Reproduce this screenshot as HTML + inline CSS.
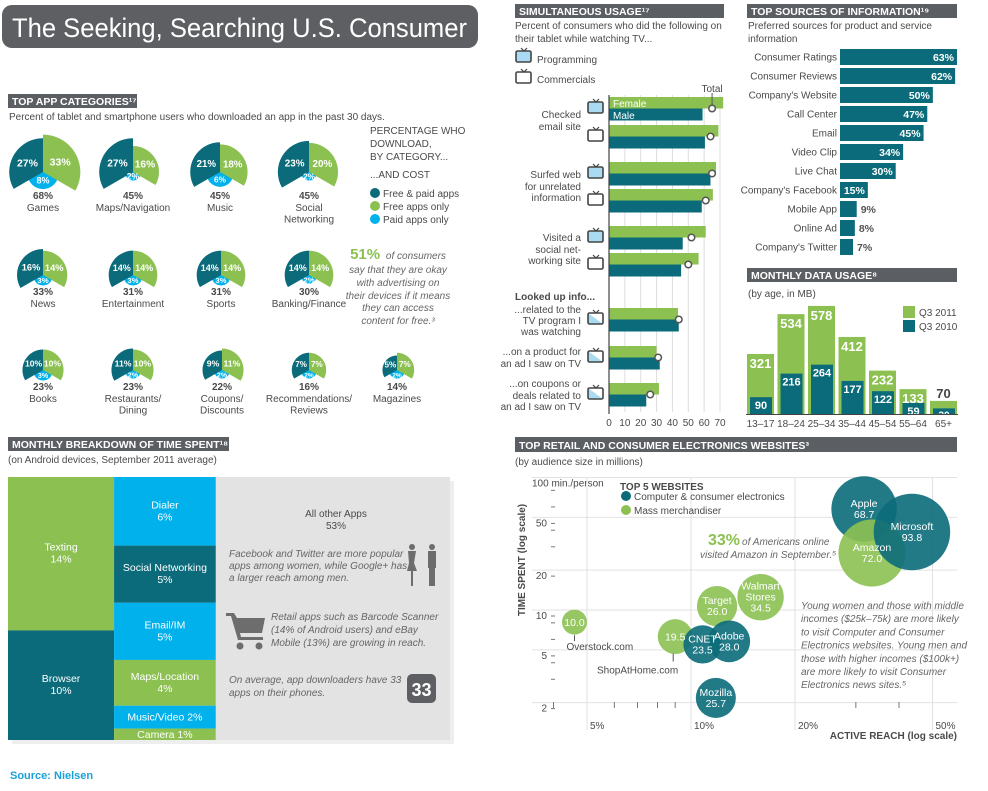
<!DOCTYPE html>
<html><head><meta charset="utf-8"><style>
html,body{margin:0;padding:0;background:#fff;}
svg{display:block;font-family:"Liberation Sans",sans-serif;}
.t{fill:#4a4a4a;font-size:10px;}
.hd{fill:#fff;font-size:10.5px;font-weight:bold;}
.w{fill:#fff;}
.it{font-style:italic;fill:#666;font-size:10px;}
</style></head><body>
<svg id="s" width="988" height="791" viewBox="0 0 988 791">
<defs>
<linearGradient id="half" x1="0" y1="1" x2="1" y2="0"><stop offset="0.5" stop-color="#a9dbf3"/><stop offset="0.5" stop-color="#fff"/></linearGradient>
</defs>
<g>
<rect x="2" y="5" width="476" height="43" rx="10" fill="#5d5f63"/>
<text x="12" y="37" fill="#fff" font-size="27" textLength="455" lengthAdjust="spacingAndGlyphs">The Seeking, Searching U.S. Consumer</text>
</g>

<g><rect x="8" y="94" width="129" height="14" fill="#5b5e63"/><text class="hd" x="12" y="105">TOP APP CATEGORIES¹⁷</text></g>
<text class="t" x="9" y="120">Percent of tablet and smartphone users who downloaded an app in the past 30 days.</text>
<g><rect x="515" y="4" width="209" height="14" fill="#5b5e63"/><text class="hd" x="519" y="15">SIMULTANEOUS USAGE¹⁷</text></g>
<text class="t" x="515" y="29">Percent of consumers who did the following on</text>
<text class="t" x="515" y="42">their tablet while watching TV...</text>
<g><rect x="747" y="4" width="210" height="14" fill="#5b5e63"/><text class="hd" x="751" y="15">TOP SOURCES OF INFORMATION¹⁹</text></g>
<text class="t" x="748" y="29">Preferred sources for product and service</text>
<text class="t" x="748" y="42">information</text>
<g><rect x="747" y="268" width="210" height="14" fill="#5b5e63"/><text class="hd" x="751" y="279">MONTHLY DATA USAGE⁸</text></g>
<text class="t" x="748" y="297">(by age, in MB)</text>
<g><rect x="8" y="437" width="221" height="14" fill="#5b5e63"/><text class="hd" x="12" y="448">MONTHLY BREAKDOWN OF TIME SPENT¹⁸</text></g>
<text class="t" x="8" y="463">(on Android devices, September 2011 average)</text>
<g><rect x="515" y="437" width="442" height="15" fill="#5b5e63"/><text class="hd" x="519" y="449">TOP RETAIL AND CONSUMER ELECTRONICS WEBSITES³</text></g>
<text class="t" x="515" y="465">(by audience size in millions)</text>

<g>
<text class="t" x="370" y="134">PERCENTAGE WHO</text>
<text class="t" x="370" y="147">DOWNLOAD,</text>
<text class="t" x="370" y="160">BY CATEGORY...</text>
<text class="t" x="370" y="178">...AND COST</text>
<circle cx="375" cy="193" r="5" fill="#0b6b7a"/><text class="t" x="383" y="197">Free &amp; paid apps</text>
<circle cx="375" cy="206" r="5" fill="#8cc152"/><text class="t" x="383" y="210">Free apps only</text>
<circle cx="375" cy="219" r="5" fill="#00b1ec"/><text class="t" x="383" y="223">Paid apps only</text>
</g>
<g text-anchor="middle">
<text x="398" y="259"><tspan fill="#8cc152" font-weight="bold" font-size="15">51%</tspan><tspan class="it" dx="3"> of consumers</tspan></text>
<text class="it" x="398" y="273">say that they are okay</text>
<text class="it" x="398" y="286">with advertising on</text>
<text class="it" x="398" y="299">their devices if it means</text>
<text class="it" x="398" y="311">they can access</text>
<text class="it" x="398" y="324">content for free.³</text>
</g>
<g id="pies"></g>

<g id="tree"></g>
<g>
<text class="t" x="336" y="517" text-anchor="middle" font-size="10.5">All other Apps</text>
<text class="t" x="336" y="529" text-anchor="middle" font-size="10.5">53%</text>
<text class="it" x="229" y="557" fill="#555">Facebook and Twitter are more popular</text>
<text class="it" x="229" y="569" fill="#555">apps among women, while Google+ has</text>
<text class="it" x="229" y="581" fill="#555">a larger reach among men.</text>
<g fill="#6d6d6d">
<circle cx="412" cy="547" r="3"/><path d="M408 551h8l-2 12 3 8h-4v15h-2v-15h-4l2-8z"/>
<circle cx="432" cy="547" r="3"/><rect x="428" y="551" width="8" height="17"/><rect x="429" y="568" width="6" height="18"/>
</g>
<g fill="#6d6d6d">
<path d="M226 613h8l3 5h28l-3 15h-22l1 4h22v3h-25l-7-24h-5z"/><circle cx="240" cy="646" r="3.5"/><circle cx="259" cy="646" r="3.5"/>
</g>
<text class="it" x="271" y="620" fill="#555">Retail apps such as Barcode Scanner</text>
<text class="it" x="271" y="633" fill="#555">(14% of Android users) and eBay</text>
<text class="it" x="271" y="646" fill="#555">Mobile (13%) are growing in reach.</text>
<text class="it" x="229" y="683" fill="#555">On average, app downloaders have 33</text>
<text class="it" x="229" y="696" fill="#555">apps on their phones.</text>
<rect x="407" y="674" width="29" height="29" rx="5" fill="#5d5f63"/>
<text x="421.5" y="696" fill="#fff" font-size="18" font-weight="bold" text-anchor="middle">33</text>
</g>
<text x="10" y="779" fill="#1aa0d8" font-size="11" font-weight="bold">Source: Nielsen</text>

<g id="simleg">
<text class="t" x="537" y="63">Programming</text>
<text class="t" x="537" y="83">Commercials</text>
</g>
<g id="sim"></g>
<g id="src"></g>
<g id="mdu"></g>
<g id="bub"></g>
</svg>
<script>
const pieNames=[["Games"],["Maps/Navigation"],["Music"],["Social","Networking"],["News"],["Entertainment"],["Sports"],["Banking/Finance"],["Books"],["Restaurants/","Dining"],["Coupons/","Discounts"],["Recommendations/","Reviews"],["Magazines"]];
const pieFreePaid=[27,27,21,23,16,14,14,14,10,11,9,7,5];
const pieFree=[33,16,18,20,14,14,14,14,10,10,11,7,7];
const piePaid=[8,2,6,2,3,3,3,2,3,2,2,2,2];
const pieTotal=[68,45,45,45,33,31,31,30,23,23,22,16,14];
const tmLeft=["Texting","Browser"], tmLeftV=[14,10];
const tmMid=["Dialer","Social Networking","Email/IM","Maps/Location","Music/Video","Camera"], tmMidV=[6,5,5,4,2,1];
const tmOtherV=53;
const simFemale=[72,69,67.5,65.5,61,56.5,43.5,30,31.5];
const simMale=[59,60.5,64,58.5,46.5,45.5,44,32,23.5];
const simTotal=[65,64,65,61,52,50,44,31,26];
const simTicks=[0,10,20,30,40,50,60,70];
const srcNames=["Consumer Ratings","Consumer Reviews","Company's Website","Call Center","Email","Video Clip","Live Chat","Company's Facebook","Mobile App","Online Ad","Company's Twitter"];
const srcVals=[63,62,50,47,45,34,30,15,9,8,7];
const mduAges=["13–17","18–24","25–34","35–44","45–54","55–64","65+"];
const mdu2011=[321,534,578,412,232,133,70];
const mdu2010=[90,216,264,177,122,59,30];
const bubNames=["Overstock","ShopAtHome","Walmart Stores","Target","Apple","Amazon","Microsoft","Adobe","CNET","Mozilla"];
const bubReach=[4.6,9.0,15.9,11.9,31.7,33.4,43.6,12.9,10.8,11.8];
const bubTime=[8.1,6.3,12.5,10.7,57.8,26.9,38.8,5.8,5.5,2.17];
const bubAud=[10.0,19.5,34.5,26.0,68.7,72.0,93.8,28.0,23.5,25.7];
const bubType=["m","m","m","m","c","m","c","c","c","c"];
const yTicks=[100,50,20,10,5,2], xTicks=[5,10,20,50];

const NS="http://www.w3.org/2000/svg";
const TEAL="#0b6b7a",GREEN="#8cc152",CYAN="#00b1ec";
function mk(p,tag,at,txt){const e=document.createElementNS(NS,tag);for(const k in at)e.setAttribute(k,at[k]);if(txt!=null)e.textContent=txt;p.appendChild(e);return e;}

(function(){
const g=document.getElementById('pies');
const cxs=[43,133,220,309,43,133,221,309,43,133,222,309,397];
const cys=[172,172,172,172,275,275,275,275,370,370,370,370,370];
const rad=v=>6.5*Math.sqrt(v), radC=v=>5.5*Math.sqrt(v);
function sector(cx,cy,r,a0,a1,sw){const p=a=>[cx+r*Math.cos(a*Math.PI/180),cy+r*Math.sin(a*Math.PI/180)];const s=p(a0),e=p(a1);return `M${cx} ${cy}L${s[0]} ${s[1]}A${r} ${r} 0 0 ${sw} ${e[0]} ${e[1]}Z`;}
pieNames.forEach((nm,i)=>{
 const cx=cxs[i],cy=cys[i];
 const pg=mk(g,'g',{});
 
 
 const rc=radC(piePaid[i]);
 mk(pg,'circle',{cx:cx,cy:cy+rc*0.1,r:rc,fill:CYAN});
 const rt=rad(pieFreePaid[i]),rg=rad(pieFree[i]);
 mk(pg,'path',{d:sector(cx,cy,rt,-90,-210,0),fill:TEAL});
 mk(pg,'path',{d:sector(cx,cy,rg,-90,30,1),fill:GREEN});
 const fs=Math.min(10.5,6+Math.max(rt,rg)/8);
 mk(pg,'text',{x:cx-rt*0.46,y:cy-rt*0.17,'text-anchor':'middle','font-size':fs,'font-weight':'bold',fill:'#fff'},pieFreePaid[i]+'%');
 mk(pg,'text',{x:cx+rg*0.46,y:cy-rg*0.17,'text-anchor':'middle','font-size':fs,'font-weight':'bold',fill:'#fff'},pieFree[i]+'%');
 mk(pg,'text',{x:cx,y:cy+rc*0.55+3,'text-anchor':'middle','font-size':fs-1.5,'font-weight':'bold',fill:'#fff'},piePaid[i]+'%');
 const ly=cys[i]+(i<4?27:20);
 mk(pg,'text',{x:cx,y:ly,'text-anchor':'middle',class:'t','font-weight':'bold'},pieTotal[i]+'%');
 nm.forEach((l,k)=>mk(pg,'text',{x:cx,y:ly+12+k*11.5,'text-anchor':'middle',class:'t'},l));
});
})();

(function(){
const g=document.getElementById('tree');
const x0=8,y0=477,H=263,W=442;
const tot=tmLeftV.reduce((a,b)=>a+b,0)+tmMidV.reduce((a,b)=>a+b,0)+tmOtherV;
const wL=W*tmLeftV.reduce((a,b)=>a+b,0)/tot,wM=W*tmMidV.reduce((a,b)=>a+b,0)/tot;
mk(g,'rect',{x:x0+4,y:y0+4,width:W,height:H,fill:'#eee'});
const other=mk(g,'rect',{x:x0+wL+wM,y:y0,width:W-wL-wM,height:H,fill:'#e3e3e3'});


const lc=[GREEN,TEAL];let y=y0;const sL=tmLeftV.reduce((a,b)=>a+b,0);
tmLeft.forEach((n,i)=>{const h=H*tmLeftV[i]/sL;const r=mk(g,'rect',{x:x0,y:y,width:wL,height:h,fill:lc[i]});
 
 
 mk(g,'text',{x:x0+wL/2,y:y+h/2-3,'text-anchor':'middle',fill:'#fff','font-size':10.5},n);
 mk(g,'text',{x:x0+wL/2,y:y+h/2+9,'text-anchor':'middle',fill:'#fff','font-size':10.5},tmLeftV[i]+'%');y+=h;});
const mc=[CYAN,TEAL,CYAN,GREEN,CYAN,GREEN];y=y0;const sM=tmMidV.reduce((a,b)=>a+b,0);
tmMid.forEach((n,i)=>{const h=H*tmMidV[i]/sM;const r=mk(g,'rect',{x:x0+wL,y:y,width:wM,height:h,fill:mc[i]});
 
 
 if(h>30){mk(g,'text',{x:x0+wL+wM/2,y:y+h/2-3,'text-anchor':'middle',fill:'#fff','font-size':10.5},n);
  mk(g,'text',{x:x0+wL+wM/2,y:y+h/2+9,'text-anchor':'middle',fill:'#fff','font-size':10.5},tmMidV[i]+'%');}
 else mk(g,'text',{x:x0+wL+wM/2,y:y+h/2+3.5,'text-anchor':'middle',fill:'#fff','font-size':10.5},n+' '+tmMidV[i]+'%');
 y+=h;});
})();

function tv(p,x,y,fill){const g=mk(p,'g',{});
 
 
 mk(g,'path',{d:`M${x+5} ${y}l3 3l3-3`,stroke:'#444',fill:'none','stroke-width':1.2});
 mk(g,'rect',{x:x,y:y+3,width:15,height:11,rx:1.5,fill:fill,stroke:'#444','stroke-width':1.6});}
tv(document.getElementById('simleg'),516,48,'#a9dbf3');tv(document.getElementById('simleg'),516,69,'#fff');

(function(){
const g=document.getElementById('sim');
const X=v=>609+v*(111/70);
const rowTop=[97,125,162,189,226,253,308,346,383];
simTicks.forEach(t=>{mk(g,'line',{x1:X(t),x2:X(t),y1:95,y2:412,stroke:'#ddd','stroke-width':1});
 mk(g,'text',{x:X(t),y:426,'text-anchor':'middle',class:'t'},t);});
simFemale.forEach((f,i)=>{const y=rowTop[i];
 const a=mk(g,'rect',{x:X(0),y:y,width:X(f)-X(0),height:11.5,fill:GREEN});
 
 
 const b=mk(g,'rect',{x:X(0),y:y+11.5,width:X(simMale[i])-X(0),height:12,fill:TEAL});
 
 
 const c=mk(g,'circle',{cx:X(simTotal[i]),cy:y+11.5,r:3.3,fill:'#fff',stroke:'#555','stroke-width':1.5});
 
 
 tv(g,588,y+2,i<6?(i%2?'#fff':'#a9dbf3'):'url(#half)');
});
mk(g,'line',{x1:X(0),x2:X(0),y1:95,y2:414,stroke:'#444','stroke-width':1.2});
mk(g,'line',{x1:X(simTotal[0]),x2:X(simTotal[0]),y1:93,y2:106,stroke:'#555'});
mk(g,'text',{x:X(simTotal[0]),y:92,'text-anchor':'middle',class:'t'},'Total');
mk(g,'text',{x:613,y:107,fill:'#fff','font-size':10},'Female');
mk(g,'text',{x:613,y:119,fill:'#fff','font-size':10},'Male');
const L=[[118,"Checked"],[130,"email site"],[178,"Surfed web"],[190,"for unrelated"],[201,"information"],[241,"Visited a"],[253,"social net-"],[264,"working site"],[313,"...related to the"],[324,"TV program I"],[335,"was watching"],[355,"...on a product for"],[367,"an ad I saw on TV"],[387,"...on coupons or"],[399,"deals related to"],[410,"an ad I saw on TV"]];
L.forEach(l=>mk(g,'text',{x:581,y:l[0],'text-anchor':'end',class:'t'},l[1]));
mk(g,'text',{x:515,y:300,class:'t','font-weight':'bold'},'Looked up info...');
})();

(function(){
const g=document.getElementById('src');const X=v=>840+v*1.857;
srcNames.forEach((n,i)=>{const yc=57+i*19;
 const r=mk(g,'rect',{x:840,y:yc-8,width:X(srcVals[i])-840,height:16,fill:TEAL});
 
 
 mk(g,'text',{x:837,y:yc+3.5,'text-anchor':'end',class:'t'},n);
 if(srcVals[i]>=15)mk(g,'text',{x:X(srcVals[i])-3,y:yc+4,'text-anchor':'end',fill:'#fff','font-size':10.5,'font-weight':'bold'},srcVals[i]+'%');
 else mk(g,'text',{x:X(srcVals[i])+4,y:yc+4,fill:'#555','font-size':10.5,'font-weight':'bold'},srcVals[i]+'%');
});
})();

(function(){
const g=document.getElementById('mdu');const base=414,Y=v=>base-v*0.187;
mduAges.forEach((a,i)=>{const x=747+i*30.5;
 const r=mk(g,'rect',{x:x,y:Y(mdu2011[i]),width:27,height:base-Y(mdu2011[i]),fill:GREEN});
 
 
 const r2=mk(g,'rect',{x:x+3,y:Y(mdu2010[i]),width:22,height:base-Y(mdu2010[i]),fill:TEAL});
 
 
 const big=mdu2011[i]>100;
 mk(g,'text',{x:x+13.5,y:big?Y(mdu2011[i])+14:Y(mdu2011[i])-3,'text-anchor':'middle','font-size':13,'font-weight':'bold',fill:big?'#fff':'#444'},mdu2011[i]);
 mk(g,'text',{x:x+14,y:Y(mdu2010[i])+(mdu2010[i]>50?12:10),'text-anchor':'middle','font-size':big?11:10,'font-weight':'bold',fill:'#fff'},mdu2010[i]);
 mk(g,'text',{x:x+13.5,y:427,'text-anchor':'middle',class:'t'},a);
});
mk(g,'line',{x1:746,x2:958,y1:414.5,y2:414.5,stroke:'#444'});
mk(g,'rect',{x:903,y:306,width:12,height:12,fill:GREEN});mk(g,'text',{x:919,y:316,class:'t'},'Q3 2011');
mk(g,'rect',{x:903,y:320,width:12,height:12,fill:TEAL});mk(g,'text',{x:919,y:330,class:'t'},'Q3 2010');
})();

(function(){
const g=document.getElementById('bub');
const X=p=>691+345.5*Math.log10(p/10), Y=t=>610-132.5*Math.log10(t/10);
yTicks.forEach(t=>{mk(g,'line',{x1:532,x2:957,y1:Y(t),y2:Y(t),stroke:'#e2e2e2'});
 mk(g,'text',{x:t==100?532:547,y:Y(t)+9,'text-anchor':t==100?'start':'end',class:'t'},t==100?'100 min./person':t);});
xTicks.forEach(p=>{mk(g,'line',{x1:X(p),x2:X(p),y1:478,y2:730,stroke:'#e2e2e2'});
 mk(g,'text',{x:X(p)+3,y:729,class:'t'},p+'%');});
[80,60,40,30,8,6,4,3].forEach(t=>mk(g,'line',{x1:551,x2:555,y1:Y(t),y2:Y(t),stroke:'#777'}));
[10,20,50,5,2].forEach(t=>mk(g,'line',{x1:551,x2:555,y1:Y(t)+6,y2:Y(t)+6,stroke:'#777'}));
[4,6,7,8,9,30,40].forEach(p=>mk(g,'line',{x1:X(p),x2:X(p),y1:702,y2:708,stroke:'#777'}));
mk(g,'text',{x:0,y:0,transform:'translate(525,560) rotate(-90)','text-anchor':'middle',class:'t','font-weight':'bold','font-size':10.5},'TIME SPENT (log scale)');
mk(g,'text',{x:957,y:739,'text-anchor':'end',class:'t','font-weight':'bold','font-size':10.5},'ACTIVE REACH (log scale)');
mk(g,'text',{x:620,y:490,class:'t','font-weight':'bold'},'TOP 5 WEBSITES');
mk(g,'circle',{cx:626,cy:496,r:5,fill:TEAL});mk(g,'text',{x:634,y:500,class:'t'},'Computer & consumer electronics');
mk(g,'circle',{cx:626,cy:510,r:5,fill:GREEN});mk(g,'text',{x:634,y:514,class:'t'},'Mass merchandiser');
const note=mk(g,'text',{x:708,y:545});
mk(note,'tspan',{fill:GREEN,'font-weight':'bold','font-size':16},'33%');
mk(note,'tspan',{class:'it',dx:2},'of Americans online');
mk(g,'text',{x:700,y:558,class:'it'},'visited Amazon in September.⁵');
["Young women and those with middle","incomes ($25k–75k) are more likely","to visit Computer and Consumer","Electronics websites. Young men and","those with higher incomes ($100k+)","are more likely to visit Consumer","Electronics news sites.⁵"].forEach((l,k)=>mk(g,'text',{x:801,y:609+k*13.2,class:'it'},l));
bubNames.forEach((n,i)=>{const cx=X(bubReach[i]),cy=Y(bubTime[i]),r=3.95*Math.sqrt(bubAud[i]);
 const c=mk(g,'circle',{cx:cx,cy:cy,r:r,fill:bubType[i]=='c'?TEAL:GREEN,'fill-opacity':0.9});
 
 
});
bubNames.forEach((n,i)=>{const cx=X(bubReach[i]),cy=Y(bubTime[i]);const v=bubAud[i].toFixed(1);
 if(i<2){mk(g,'text',{x:cx,y:cy+4,'text-anchor':'middle',fill:'#fff','font-size':10.5},v);}
 else{const parts=n=="Walmart Stores"?["Walmart","Stores"]:[n];
  const lines=parts.concat([v]);const y0=cy-(lines.length-1)*5.5+3.5;
  lines.forEach((l,k)=>mk(g,'text',{x:cx,y:y0+k*11,'text-anchor':'middle',fill:'#fff','font-size':10.5},l));}
});
const c0=[X(bubReach[0]),Y(bubTime[0])],c1=[X(bubReach[1]),Y(bubTime[1])];
mk(g,'line',{x1:c0[0],x2:c0[0],y1:c0[1]+13,y2:c0[1]+19,stroke:'#555'});
mk(g,'text',{x:c0[0]-8,y:c0[1]+28,class:'t'},'Overstock.com');
mk(g,'line',{x1:c1[0]-2,x2:c1[0]-2,y1:c1[1]+17,y2:c1[1]+25,stroke:'#555'});
mk(g,'text',{x:597,y:c1[1]+37,class:'t'},'ShopAtHome.com');
})();
</script>
</body></html>
